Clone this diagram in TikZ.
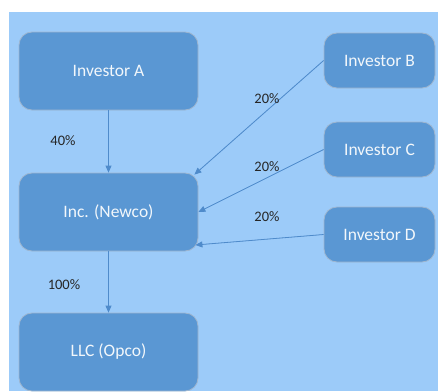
\documentclass[tikz,border=0pt]{standalone}
\usepackage{fontspec}
\setmainfont{Carlito}
\usepackage{tikz}
\usepackage{xcolor}
\usetikzlibrary{arrows.meta}

\definecolor{bgblue}{HTML}{9CCBF9}
\definecolor{boxblue}{HTML}{5A97D3}
\definecolor{boxline}{HTML}{9FB6CF}
\definecolor{linkblue}{HTML}{4F8BCB}

\begin{document}
\begin{tikzpicture}[x=1pt, y=-1pt, >={Triangle[length=7pt,width=6pt]},
    entity/.style={draw=boxline, line width=0.8pt, fill=boxblue, rounded corners=13pt,
        text=white!92!boxblue, font=\fontsize{17.5}{20}\selectfont, inner sep=0pt},
    bigbox/.style={entity, minimum width=179pt, minimum height=78pt},
    smallbox/.style={entity, minimum width=111pt, minimum height=55pt},
    share/.style={font=\fontsize{14.5}{16}\selectfont, text=black!85},
    link/.style={->, draw=linkblue, fill=linkblue, line width=0.8pt}]
\useasboundingbox (0,0) rectangle (438,391);
\fill [bgblue] (9,12) rectangle (438,391);

% Companies on the left
\node [bigbox] (invA) at (108.5,71) {Investor A};
\node [bigbox] (inc) at (108.5,212) {Inc. (Newco)};
\node [bigbox] (llc) at (108.5,352) {LLC (Opco)};

% Other investors on the right
\node [smallbox] (invB) at (379.5,60.5) {Investor B};
\node [smallbox] (invC) at (379.5,149.5) {Investor C};
\node [smallbox] (invD) at (379.5,234.5) {Investor D};

% Ownership links
\draw [link] (invA) -- (inc);
\draw [link] (inc) -- (llc);
\draw [link] (invB.west) -- ([xshift=-4pt,yshift=-2pt]inc.north east);
\draw [link] (invC.west) -- (inc.east);
\draw [link] (invD.west) -- ([xshift=-3pt,yshift=-33pt]inc.east);

% Percentages
\node [share] (pA) at (63,141) {40\%};
\node [share] (pB) at (267,99) {20\%};
\node [share] (pC) at (267,167) {20\%};
\node [share] (pD) at (267,217) {20\%};
\node [share] (pInc) at (64,285) {100\%};
\end{tikzpicture}
\end{document}
